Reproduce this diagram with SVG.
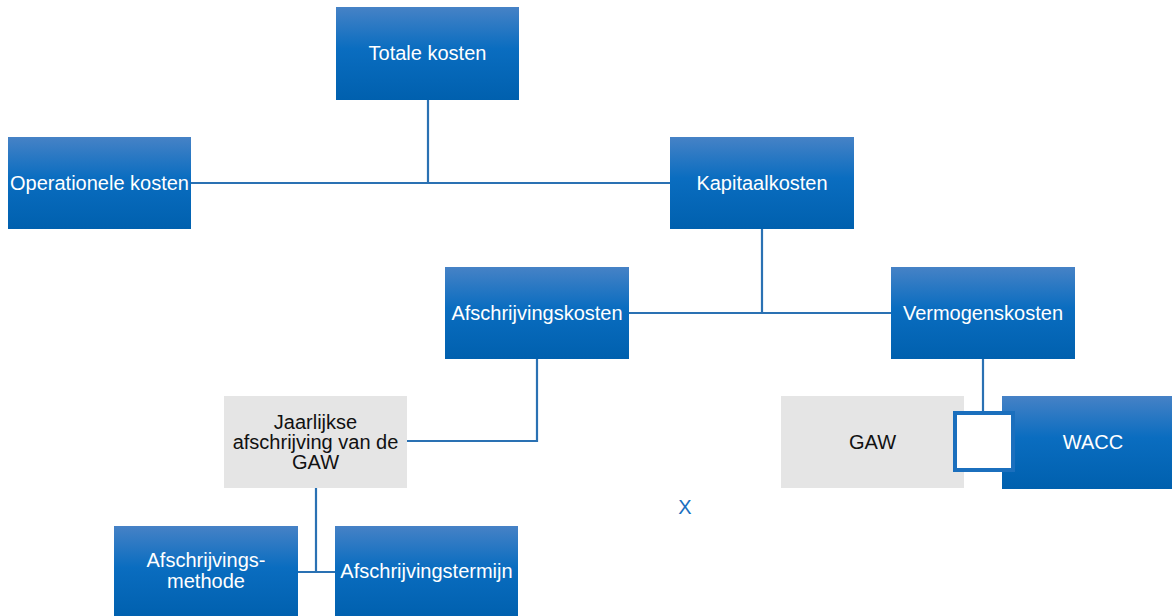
<svg xmlns="http://www.w3.org/2000/svg" width="1172" height="616" viewBox="0 0 1172 616">
<defs>
<linearGradient id="blue" x1="0" y1="0" x2="0" y2="1">
<stop offset="0" stop-color="#4682c6"/>
<stop offset="0.45" stop-color="#0a6dc0"/>
<stop offset="1" stop-color="#0060ae"/>
</linearGradient>
<style>
.b{fill:url(#blue);}
.g{fill:#e5e5e5;}
.tw{font-family:"Liberation Sans",Arial,sans-serif;font-size:20px;fill:#ffffff;text-anchor:middle;}
.tk{font-family:"Liberation Sans",Arial,sans-serif;font-size:20px;fill:#111111;text-anchor:middle;}
.c{fill:none;stroke:#2a71b3;stroke-width:2.2;}
</style>
</defs>
<rect width="1172" height="616" fill="#ffffff"/>
<g id="connectors">
<path class="c" d="M428 100 V183 M191 183 H670"/>
<path class="c" d="M762 229 V313 M629 313 H891"/>
<path class="c" d="M537 359 V441 H407"/>
<path class="c" d="M316 488 V572 M298 572 H335"/>
<path class="c" d="M983 359 V412"/>
</g>
<g id="totale-kosten">
<rect class="b" x="336" y="7" width="183" height="93"/>
<text class="tw" x="427.5" y="60">Totale kosten</text>
</g>
<g id="operationele-kosten">
<rect class="b" x="8" y="137" width="183" height="92"/>
<text class="tw" x="99.5" y="190">Operationele kosten</text>
</g>
<g id="kapitaalkosten">
<rect class="b" x="670" y="137" width="184" height="92"/>
<text class="tw" x="762" y="190">Kapitaalkosten</text>
</g>
<g id="afschrijvingskosten">
<rect class="b" x="445" y="267" width="184" height="92"/>
<text class="tw" x="537" y="320">Afschrijvingskosten</text>
</g>
<g id="vermogenskosten">
<rect class="b" x="891" y="267" width="184" height="92"/>
<text class="tw" x="983" y="320">Vermogenskosten</text>
</g>
<g id="jaarlijkse-afschrijving">
<rect class="g" x="224" y="396" width="183" height="92"/>
<text class="tk" x="315.5" y="429">Jaarlijkse</text>
<text class="tk" x="315.5" y="449">afschrijving van de</text>
<text class="tk" x="315.5" y="469">GAW</text>
</g>
<g id="gaw">
<rect class="g" x="781" y="396" width="183" height="92"/>
<text class="tk" x="872.5" y="449">GAW</text>
</g>
<g id="wacc">
<rect class="b" x="1002" y="396" width="172" height="93"/>
<text class="tw" x="1093" y="449">WACC</text>
</g>
<g id="link-square">
<rect x="955" y="413" width="58" height="57" fill="#ffffff" stroke="#1b6fbd" stroke-width="4"/>
</g>
<g id="afschrijvingsmethode">
<rect class="b" x="114" y="526" width="184" height="92"/>
<text class="tw" x="206" y="567">Afschrijvings-</text>
<text class="tw" x="206" y="588">methode</text>
</g>
<g id="afschrijvingstermijn">
<rect class="b" x="335" y="526" width="183" height="92"/>
<text class="tw" x="426.5" y="578">Afschrijvingstermijn</text>
</g>
<g id="x-label">
<text x="685" y="514" font-family="Liberation Sans,Arial,sans-serif" font-size="20" fill="#1a6fc0" text-anchor="middle">X</text>
</g>
</svg>
